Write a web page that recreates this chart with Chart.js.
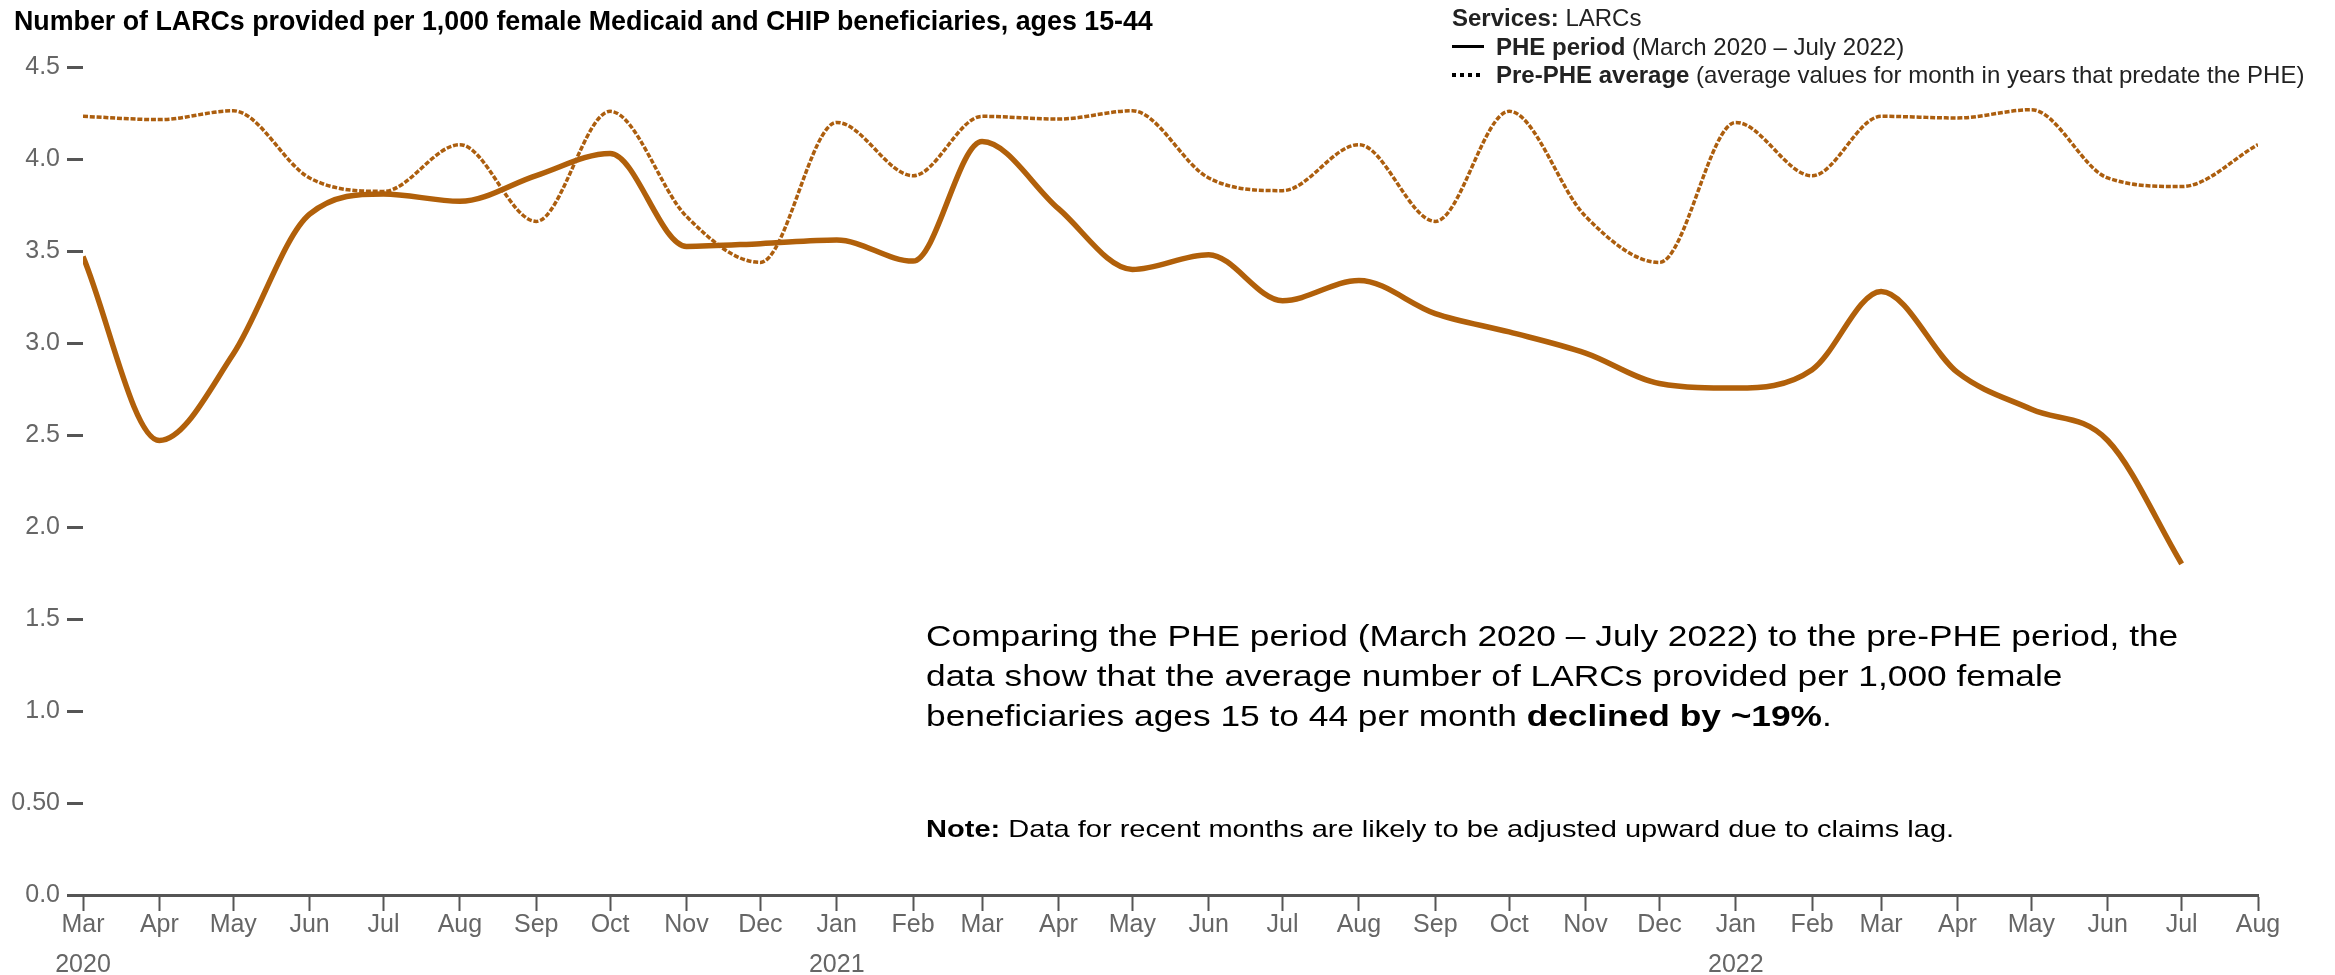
<!DOCTYPE html>
<html>
<head>
<meta charset="utf-8">
<script src="https://cdn.jsdelivr.net/npm/chart.js@4.4.1/dist/chart.umd.min.js"></script>
<style>
html,body{margin:0;padding:0;background:#fff;}
#wrap{position:relative;width:2335px;height:975px;font-family:"Liberation Sans",Arial,sans-serif;overflow:hidden;}
#c{position:absolute;left:0;top:0;}
.t{position:absolute;white-space:nowrap;color:#000;transform-origin:0 50%;}
.leg{position:absolute;left:1452px;white-space:nowrap;color:#222;font-size:24px;line-height:28px;}
.sym{display:inline-block;width:32px;height:3px;vertical-align:middle;margin-right:12px;position:relative;top:-2px;}
</style>
</head>
<body>
<div id="wrap">
<canvas id="c" width="2335" height="975"></canvas>
<div class="t" style="left:14px;top:6px;font-size:26.8px;font-weight:bold;line-height:30px;">Number of LARCs provided per 1,000 female Medicaid and CHIP beneficiaries, ages 15-44</div>
<div class="leg" style="top:4px;"><b>Services:</b> LARCs</div>
<div class="leg" style="top:32.5px;"><span class="sym" style="background:#000;"></span><b>PHE period</b> (March 2020 – July 2022)</div>
<div class="leg" style="top:61px;"><span class="sym" style="height:4px;background:repeating-linear-gradient(90deg,#000 0 4px,transparent 4px 8px);"></span><b>Pre-PHE average</b> (average values for month in years that predate the PHE)</div>
<div class="t" style="left:926px;top:616px;font-size:30px;line-height:40px;transform:scaleX(1.177);">Comparing the PHE period (March 2020 – July 2022) to the pre-PHE period, the<br>data show that the average number of LARCs provided per 1,000 female<br>beneficiaries ages 15 to 44 per month <b>declined by ~19%</b>.</div>
<div class="t" style="left:926px;top:815px;font-size:24px;line-height:28px;transform:scaleX(1.21);"><b>Note:</b> Data for recent months are likely to be adjusted upward due to claims lag.</div>
</div>
<script>
// ---- data ----
const months = ['2020-03','2020-04','2020-05','2020-06','2020-07','2020-08','2020-09','2020-10','2020-11','2020-12',
  '2021-01','2021-02','2021-03','2021-04','2021-05','2021-06','2021-07','2021-08','2021-09','2021-10','2021-11','2021-12',
  '2022-01','2022-02','2022-03','2022-04','2022-05','2022-06','2022-07','2022-08'];
const monthLabels = ['Mar','Apr','May','Jun','Jul','Aug','Sep','Oct','Nov','Dec',
  'Jan','Feb','Mar','Apr','May','Jun','Jul','Aug','Sep','Oct','Nov','Dec',
  'Jan','Feb','Mar','Apr','May','Jun','Jul','Aug'];
const yearLabels = ['2020','','','','','','','','','',
  '2021','','','','','','','','','','','',
  '2022','','','','','','',''];
const phePeriod = [3.47, 2.47, 2.94, 3.70, 3.81, 3.77, 3.91, 4.03, 3.525, 3.54,
  3.56, 3.445, 4.095, 3.73, 3.40, 3.48, 3.23, 3.34, 3.16, 3.06, 2.945, 2.78,
  2.755, 2.855, 3.28, 2.84, 2.64, 2.47, 1.80];
const prePheAverage = [4.232, 4.214, 4.262, 3.897, 3.824, 4.078, 3.661, 4.259, 3.688, 3.438,
  4.199, 3.909, 4.232, 4.217, 4.262, 3.897, 3.828, 4.078, 3.661, 4.259, 3.688, 3.438,
  4.199, 3.909, 4.232, 4.223, 4.268, 3.897, 3.85, 4.078];
const yTickValues = [0, 0.5, 1.0, 1.5, 2.0, 2.5, 3.0, 3.5, 4.0, 4.5];
const yTickLabels = ['0.0','0.50','1.0','1.5','2.0','2.5','3.0','3.5','4.0','4.5'];

// ---- helpers ----
const base = Date.UTC(2020, 2, 1);
function dayOf(m) { const [y, mo] = m.split('-').map(Number); return (Date.UTC(y, mo - 1, 1) - base) / 86400000; }
const monthDays = months.map(dayOf);
const FONT = '"Liberation Sans", Arial, sans-serif';

new Chart(document.getElementById('c'), {
  type: 'line',
  data: {
    datasets: [
      {
        label: 'Pre-PHE average',
        data: prePheAverage.map((v, i) => ({x: monthDays[i], y: v})),
        borderColor: '#AC5E0E',
        borderWidth: 3.5,
        borderDash: [5, 1.8],
        pointRadius: 0,
        cubicInterpolationMode: 'monotone',
        fill: false
      },
      {
        label: 'PHE period',
        data: phePeriod.map((v, i) => ({x: monthDays[i], y: v})),
        borderColor: '#B1600A',
        borderWidth: 5.5,
        pointRadius: 0,
        cubicInterpolationMode: 'monotone',
        fill: false
      }
    ]
  },
  options: {
    responsive: false,
    animation: false,
    devicePixelRatio: 1,
    layout: {padding: {top: 67, right: 77, bottom: 0, left: 0}},
    plugins: {legend: {display: false}, title: {display: false}, tooltip: {enabled: false}},
    scales: {
      x: {
        type: 'linear',
        min: monthDays[0],
        max: monthDays[monthDays.length - 1],
        afterBuildTicks: s => { s.ticks = monthDays.map(v => ({value: v})); },
        afterFit: s => { s.height = 80; },
        border: {display: true, color: '#555', width: 3},
        grid: {display: true, drawOnChartArea: false, drawTicks: true, tickLength: 16, tickColor: '#555', tickWidth: 2},
        ticks: {
          autoSkip: false, maxRotation: 0, minRotation: 0, padding: -6,
          color: '#666', font: {size: 25, family: FONT, lineHeight: 1.6},
          callback: (v, i) => yearLabels[i] ? [monthLabels[i], yearLabels[i]] : monthLabels[i]
        }
      },
      y: {
        min: 0, max: 4.5,
        afterBuildTicks: s => { s.ticks = yTickValues.map(v => ({value: v})); },
        afterFit: s => { s.width = 83; },
        border: {display: false},
        grid: {display: true, drawOnChartArea: false, drawTicks: true, tickLength: 16, tickColor: '#555', tickWidth: 3},
        ticks: {padding: 7, color: '#666', font: {size: 25, family: FONT}, callback: (v, i) => yTickLabels[i]}
      }
    }
  }
});
</script>
</body>
</html>
